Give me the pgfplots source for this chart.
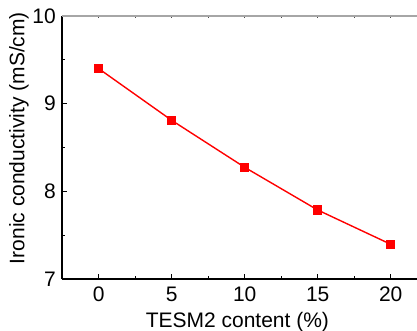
\documentclass[border=0pt]{standalone}
\usepackage{fontspec}
\setmainfont{Liberation Sans}
\usepackage{pgfplots}
\pgfplotsset{compat=1.18}
\begin{document}
\fontsize{21}{25}\selectfont
\begin{tikzpicture}
\useasboundingbox (-62pt,-52pt) rectangle (355pt,279pt);
\begin{axis}[
  at={(0,0)}, anchor=south west,
  scale only axis, width=355pt, height=263pt,
  xmin=-2.51, xmax=21.8, ymin=7, ymax=10,
  axis x line*=bottom, axis y line*=left,
  axis line style={line width=1.1pt, -},
  xtick={0,5,10,15,20}, ytick={7,8,9,10},
  minor xtick={2.5,7.5,12.5,17.5}, minor ytick={7.5,8.5,9.5},
  tick align=inside,
  major tick length=5pt, minor tick length=3pt,
  tick style={line width=0.8pt, black},
  /pgf/number format/assume math mode=true,
  ticklabel style={font=\fontsize{21}{25}\selectfont},
  xticklabel style={yshift=-1pt},
  yticklabel style={xshift=1pt},
  label style={font=\fontsize{21}{25}\selectfont},
  xlabel={TESM2 content (\%)},
  ylabel={Ironic conductivity (mS/cm)},
  xlabel style={at={(axis description cs:0.494,-0.185)}, anchor=base},
  ylabel style={at={(axis description cs:-0.121,0.536)}, anchor=center, rotate=0},
  clip=false,
]
\addplot[red, line width=1.4pt, mark=square*, mark size=4pt, mark options={solid, fill=red, draw=red}]
  coordinates {(0,9.40) (5,8.81) (10,8.274) (15,7.787) (20,7.396)};
\end{axis}
\begin{axis}[
  at={(0,0)}, anchor=south west,
  scale only axis, width=355pt, height=263pt,
  xmin=-2.51, xmax=21.8, ymin=7, ymax=10,
  axis x line*=top, hide y axis,
  axis line style={line width=1.1pt, gray!70, -},
  xtick={0,2.5,...,20}, xticklabels={},
  tick align=inside, major tick length=2pt,
  tick style={line width=0.8pt, black!70},
]
\end{axis}
\end{tikzpicture}
\end{document}
